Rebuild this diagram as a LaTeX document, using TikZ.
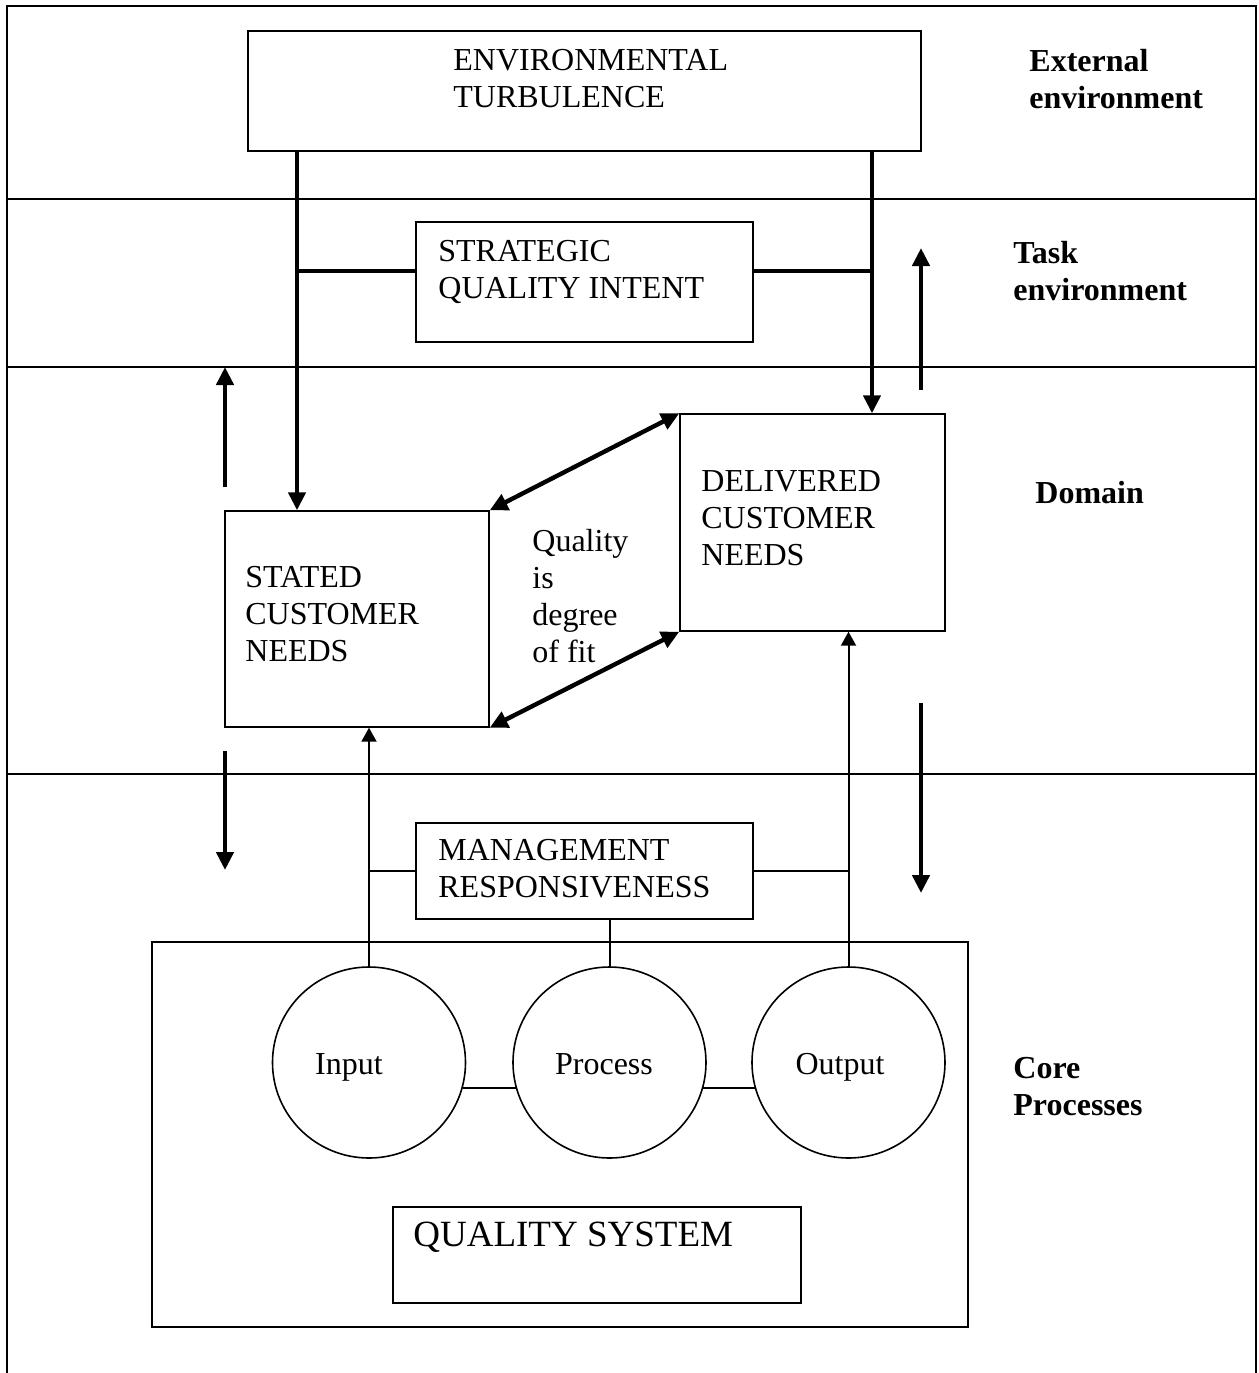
\documentclass[tikz,border=0pt]{standalone}
\usepackage{fontspec}
\setmainfont{Liberation Serif}
\usetikzlibrary{arrows.meta,shapes.geometric}

\tikzset{
  box/.style={draw, line width=0.7pt, rectangle, inner sep=0pt},
  oval/.style={draw, line width=0.8pt, ellipse, inner sep=0pt,
               minimum width=96.5pt, minimum height=95.5pt},
  txt/.style={inner sep=0pt, align=left, anchor=west,
              font=\fontsize{16}{18.5}\selectfont},
  word/.style={inner sep=0pt, anchor=base, font=\fontsize{16}{18.5}\selectfont},
  side/.style={txt, font=\fontsize{16}{18.5}\selectfont\bfseries},
  band/.style={line width=0.7pt},
  heavy/.style={line width=2.2pt, -{Triangle[width=8.5pt,length=9pt]}},
  heavyline/.style={line width=2.2pt},
  heavyboth/.style={line width=2.2pt,
     {Triangle[width=8.5pt,length=9pt]}-{Triangle[width=8.5pt,length=9pt]}},
  thin/.style={line width=1pt},
  thinarrow/.style={line width=1pt, -{Triangle[width=7.5pt,length=7pt]}}
}

\begin{document}
\begin{tikzpicture}[x=0.5pt,y=-0.5pt]
\useasboundingbox (0,0) rectangle (1259,1373);

% outer frame, open at the bottom
\draw[line width=1pt] (7,1373) -- (7,6) -- (1256,6) -- (1256,1373);

% boundaries between the four levels
\draw[band] (7,199) -- (1256,199);
\draw[band] (7,367) -- (1256,367);
\draw[band] (7,774) -- (1256,774);

% boxes
\node[box, minimum width=336.5pt, minimum height=60pt] (env) at (584.5,91) {};
\node[box, minimum width=168.5pt, minimum height=60pt] (strat) at (584.5,282) {};
\node[box, minimum width=132pt, minimum height=108pt] (stated) at (357,619) {};
\node[box, minimum width=132.5pt, minimum height=108.5pt] (deliv) at (812.5,522.5) {};
\node[box, minimum width=168.5pt, minimum height=48pt] (mgmt) at (584.5,871) {};
\node[box, line width=1pt, minimum width=408pt, minimum height=192.5pt] (core) at (560,1134.5) {};
\node[box, minimum width=204pt, minimum height=48pt] (qs) at (597,1255) {};

% processes
\node[oval] (input) at (369,1062.5) {};
\node[oval] (process) at (609.5,1062.5) {};
\node[oval] (output) at (848.5,1062.5) {};

% box texts
\node[txt] (envt) at (453,79) {ENVIRONMENTAL\\TURBULENCE};
\node[txt] (stratt) at (438,272) {STRATEGIC\\QUALITY INTENT};
\node[txt] (statedt) at (245,614) {STATED\\CUSTOMER\\NEEDS};
\node[txt] (delivt) at (701,518) {DELIVERED\\CUSTOMER\\NEEDS};
\node[txt] (fit) at (532,596) {Quality\\is\\degree\\of fit};
\node[txt] (mgmtt) at (438,869) {MANAGEMENT\\RESPONSIVENESS};
\node[word] (inputt) at (349,1074) {Input};
\node[word] (processt) at (604,1074) {Process};
\node[word] (outputt) at (840,1074) {Output};
\node[txt, font=\fontsize{18.5}{21}\selectfont] (qst) at (413,1237) {QUALITY SYSTEM};

% level labels
\node[side] (lext) at (1029,79) {External\\environment};
\node[side] (ltask) at (1013,271) {Task\\environment};
\node[side] (ldom) at (1035,493) {Domain};
\node[side] (lcore) at (1013,1087) {Core\\Processes};

% turbulence feeding the customer needs, joined by strategic intent
\coordinate (jl) at (297,271);
\coordinate (jr) at (872,271);
\draw[heavy] (env.south -| jl) -- (stated.north -| jl);
\draw[heavy] (env.south -| jr) -- (deliv.north -| jr);
\draw[heavyline] (jl) -- (jl -| strat.west);
\draw[heavyline] (jr -| strat.east) -- (jr);

% degree of fit
\draw[heavyboth] (stated.north east) -- (deliv.north west);
\draw[heavyboth] (stated.south east) -- (deliv.south west);

% free-standing direction arrows
\coordinate (ua1) at (921,390); \coordinate (ua2) at (921,248);
\coordinate (ub1) at (225,487); \coordinate (ub2) at (225,367);
\coordinate (da1) at (225,751); \coordinate (da2) at (225,870);
\coordinate (db1) at (921,703); \coordinate (db2) at (921,893);
\draw[heavy] (ua1) -- (ua2);
\draw[heavy] (ub1) -- (ub2);
\draw[heavy] (da1) -- (da2);
\draw[heavy] (db1) -- (db2);

% core processes up to the customer needs
\draw[thinarrow] (input.north) -- (input.north |- stated.south);
\draw[thinarrow] (output.north) -- (output.north |- deliv.south);
\draw[thin] (mgmt.west) -- (mgmt.west -| input.north);
\draw[thin] (mgmt.east) -- (mgmt.east -| output.north);
\draw[thin] (mgmt.south -| process.north) -- (process.north);

% links between the processes
\draw[thin] (input.-15) -- (process.-165);
\draw[thin] (process.-15) -- (output.-165);
\end{tikzpicture}
\end{document}
